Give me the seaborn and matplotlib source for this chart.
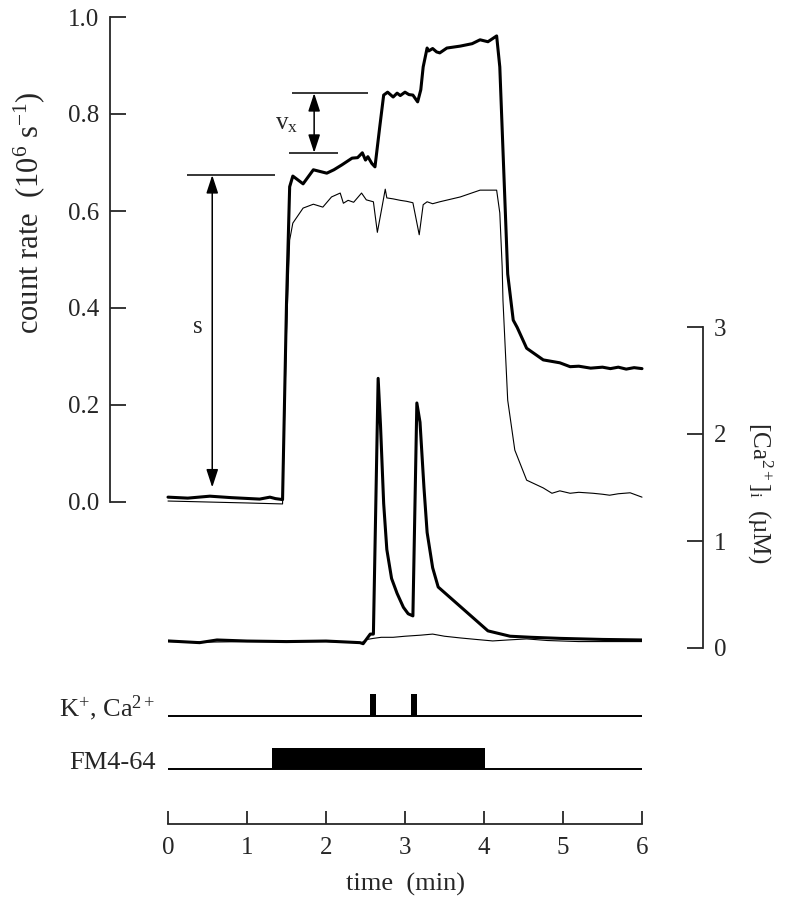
import numpy as np
import matplotlib
matplotlib.use("Agg")
import matplotlib.pyplot as plt
import seaborn as sns

# ---- data -----------------------------------------------------------------
# count rate, thick trace (10^6 s^-1) vs time (min)
count_thick_t = [0.0, 0.25, 0.53, 0.8, 1.16, 1.29, 1.36, 1.45, 1.50, 1.54, 1.58,
                 1.71, 1.84, 2.01, 2.10, 2.20, 2.33, 2.40, 2.46, 2.50, 2.53, 2.58,
                 2.62, 2.68, 2.73, 2.78, 2.85, 2.90, 2.94, 3.00, 3.05, 3.10, 3.16,
                 3.20, 3.23, 3.28, 3.30, 3.35, 3.40, 3.44, 3.53, 3.70, 3.85, 3.95,
                 4.05, 4.16, 4.20, 4.30, 4.37, 4.42, 4.54, 4.75, 4.96, 5.09, 5.20,
                 5.35, 5.50, 5.60, 5.70, 5.80, 5.90, 6.00]
count_thick_v = [0.010, 0.008, 0.012, 0.009, 0.006, 0.010, 0.007, 0.005, 0.41, 0.650, 0.672,
                 0.656, 0.685, 0.678, 0.685, 0.695, 0.709, 0.710, 0.720, 0.705, 0.712, 0.698,
                 0.691, 0.773, 0.839, 0.845, 0.835, 0.843, 0.838, 0.845, 0.840, 0.839, 0.825,
                 0.850, 0.897, 0.936, 0.930, 0.935, 0.928, 0.926, 0.936, 0.940, 0.945, 0.953,
                 0.949, 0.961, 0.897, 0.470, 0.375, 0.360, 0.317, 0.293, 0.287, 0.279, 0.280,
                 0.276, 0.278, 0.275, 0.278, 0.274, 0.277, 0.275]

# count rate, thin trace
count_thin_t = [0.0, 0.5, 1.0, 1.45, 1.50, 1.54, 1.58, 1.71, 1.84, 1.96, 2.07, 2.18,
                2.22, 2.28, 2.35, 2.45, 2.51, 2.60, 2.65, 2.71, 2.75, 2.77, 2.85, 2.94,
                3.02, 3.10, 3.18, 3.23, 3.28, 3.35, 3.44, 3.70, 3.95, 4.16, 4.20, 4.23,
                4.24, 4.30, 4.39, 4.54, 4.75, 4.86, 4.96, 5.09, 5.20, 5.38, 5.50, 5.59,
                5.70, 5.85, 6.00]
count_thin_v = [0.002, 0.000, -0.002, -0.004, 0.35, 0.540, 0.575, 0.606, 0.614, 0.608, 0.629, 0.637,
                0.616, 0.622, 0.618, 0.637, 0.623, 0.619, 0.556, 0.609, 0.645, 0.627, 0.625, 0.622,
                0.620, 0.617, 0.551, 0.613, 0.619, 0.615, 0.619, 0.629, 0.643, 0.643, 0.596, 0.485,
                0.416, 0.210, 0.107, 0.045, 0.029, 0.018, 0.023, 0.018, 0.020, 0.018, 0.016, 0.014,
                0.017, 0.019, 0.010]

# [Ca2+]i, thick trace (uM)
ca_thick_t = [0.0, 0.4, 0.62, 1.0, 1.5, 2.0, 2.43, 2.47, 2.56, 2.60, 2.66, 2.69, 2.73,
              2.77, 2.83, 2.90, 2.98, 3.04, 3.10, 3.15, 3.19, 3.24, 3.28, 3.35, 3.42,
              4.05, 4.33, 4.60, 4.96, 5.50, 6.00]
ca_thick_v = [0.066, 0.050, 0.075, 0.065, 0.060, 0.065, 0.050, 0.040, 0.130, 0.130, 2.52, 2.08, 1.35,
              0.92, 0.65, 0.51, 0.38, 0.32, 0.30, 2.29, 2.11, 1.50, 1.08, 0.75, 0.57,
              0.16, 0.11, 0.10, 0.09, 0.08, 0.075]

# [Ca2+]i, thin trace
ca_thin_t = [0.0, 0.5, 1.0, 1.5, 2.0, 2.45, 2.52, 2.60, 2.70, 2.85, 3.00, 3.20, 3.35,
             3.50, 3.70, 3.90, 4.11, 4.30, 4.54, 4.80, 5.20, 5.60, 6.00]
ca_thin_v = [0.060, 0.055, 0.060, 0.060, 0.060, 0.050, 0.080, 0.090, 0.100, 0.100, 0.110, 0.120, 0.130,
             0.110, 0.094, 0.080, 0.066, 0.075, 0.085, 0.070, 0.060, 0.060, 0.060]

# stimulus timing (min)
k_pulse_start = [2.56, 3.08]
k_pulse_dur = [0.07, 0.07]
fm_start = 1.32
fm_end = 4.01
stim_labels = ["K$^{+}$, Ca$^{2+}$", "FM4-64"]

# annotation levels (count rate)
s_top, s_bottom, s_time = 0.674, 0.03, 0.56
vx_top, vx_bottom, vx_time = 0.843, 0.720, 1.85

count_ticks = [0.0, 0.2, 0.4, 0.6, 0.8, 1.0]
ca_ticks = [0, 1, 2, 3]
time_ticks = [0, 1, 2, 3, 4, 5, 6]

# ---- style ------------------------------------------------------------------
sns.set_style("ticks")
plt.rcParams["font.family"] = ["Liberation Serif", "DejaVu Serif"]
plt.rcParams["mathtext.fontset"] = "stix"
plt.rcParams["mathtext.default"] = "regular"
FS = 18
LW_AX = 1.3

W, H = 787, 899
fig = plt.figure(figsize=(W / 100, H / 100), dpi=100)


def box(x0, x1, y_top, y_bot):
    """pixel box -> figure fraction rect"""
    return [x0 / W, 1 - y_bot / H, (x1 - x0) / W, (y_bot - y_top) / H]


ax = fig.add_axes(box(168, 642, 17, 502))
ax_ca = fig.add_axes(box(168, 642, 327, 648))
ax_st = fig.add_axes(box(168, 642, 690, 824))
for a in (ax, ax_ca, ax_st):
    a.patch.set_alpha(0)
    a.set_xlim(0, 6)

# ---- count rate ---------------------------------------------------------------
sns.lineplot(x=count_thin_t, y=count_thin_v, ax=ax, color="black", linewidth=0.8,
             estimator=None, sort=False, clip_on=False)
sns.lineplot(x=count_thick_t, y=count_thick_v, ax=ax, color="black", linewidth=2.2,
             estimator=None, sort=False, clip_on=False)
ax.set_ylim(0, 1)
ax.set_yticks(count_ticks)
ax.set_yticklabels([f"{v:.1f}" for v in count_ticks])
for side in ("top", "right", "bottom"):
    ax.spines[side].set_visible(False)
ax.spines["left"].set_position(("outward", 41.8))
ax.spines["left"].set_linewidth(LW_AX)
ax.set_xticks([])
ax.tick_params(axis="y", direction="in", length=11.5, width=LW_AX, pad=8, labelsize=FS)
ax.set_xlabel("")
ax.set_ylabel("")

# s and v_x markers
ax.hlines([s_top], 0.24, 1.35, color="black", lw=1.1)
ax.hlines([vx_top], 1.57, 2.53, color="black", lw=1.1)
ax.hlines([vx_bottom], 1.53, 2.15, color="black", lw=1.1)
arrow = dict(arrowstyle="<|-|>,head_length=0.55,head_width=0.18", color="black",
             lw=1.1, shrinkA=0, shrinkB=0, mutation_scale=20)
ax.annotate("", xy=(s_time, s_bottom), xytext=(s_time, s_top), arrowprops=arrow)
ax.annotate("", xy=(vx_time, vx_bottom), xytext=(vx_time, vx_top), arrowprops=arrow)
ax.text(0.38, 0.36, "s", fontsize=FS, ha="center", va="center")
ax.text(1.5, 0.78, "v$_{x}$", fontsize=FS, ha="center", va="center")

# ---- [Ca2+]i ----------------------------------------------------------------------
sns.lineplot(x=ca_thin_t, y=ca_thin_v, ax=ax_ca, color="black", linewidth=0.8,
             estimator=None, sort=False)
sns.lineplot(x=ca_thick_t, y=ca_thick_v, ax=ax_ca, color="black", linewidth=2.2,
             estimator=None, sort=False)
ax_ca.set_ylim(0, 3)
ax_ca.set_yticks(ca_ticks)
ax_ca.yaxis.tick_right()
for side in ("top", "left", "bottom"):
    ax_ca.spines[side].set_visible(False)
ax_ca.spines["right"].set_visible(True)
ax_ca.spines["right"].set_position(("outward", 43.9))
ax_ca.spines["right"].set_linewidth(LW_AX)
ax_ca.set_xticks([])
ax_ca.tick_params(axis="y", direction="in", length=11.5, width=LW_AX, pad=8, labelsize=FS)
ax_ca.set_xlabel("")
ax_ca.set_ylabel("")

# ---- stimulus protocol + time axis ---------------------------------------------
k_row, fm_row = 108, 55
ax_st.set_ylim(0, 134)
ax_st.hlines([k_row, fm_row], 0, 6, color="black", lw=1.4)
ax_st.bar(k_pulse_start, 22, width=k_pulse_dur, bottom=k_row, align="edge",
          color="black", linewidth=0)
ax_st.bar([fm_start], 21, width=[fm_end - fm_start], bottom=fm_row, align="edge",
          color="black", linewidth=0)
for row, lab in zip([k_row, fm_row], stim_labels):
    ax_st.text(-0.16, row, lab, fontsize=FS + 1, ha="right", va="baseline")
for side in ("top", "left", "right"):
    ax_st.spines[side].set_visible(False)
ax_st.spines["bottom"].set_linewidth(LW_AX)
ax_st.set_yticks([])
ax_st.set_xticks(time_ticks)
ax_st.tick_params(axis="x", direction="in", length=9.4, width=LW_AX, pad=9, labelsize=FS)

# axis titles
fig.text(29 / W, 1 - 213 / H, "count rate  (10$^{6}$ s$^{-1}$)", rotation=90,
         ha="center", va="center", fontsize=22)
fig.text(760 / W, 1 - 493 / H, "[Ca$^{2+}$]$_{i}$  (\u00b5M)", rotation=270,
         ha="center", va="center", fontsize=FS)
fig.text(405 / W, 1 - 884 / H, "time  (min)", ha="center", va="center", fontsize=19)

fig.savefig("out.png", dpi=100, facecolor="white")
